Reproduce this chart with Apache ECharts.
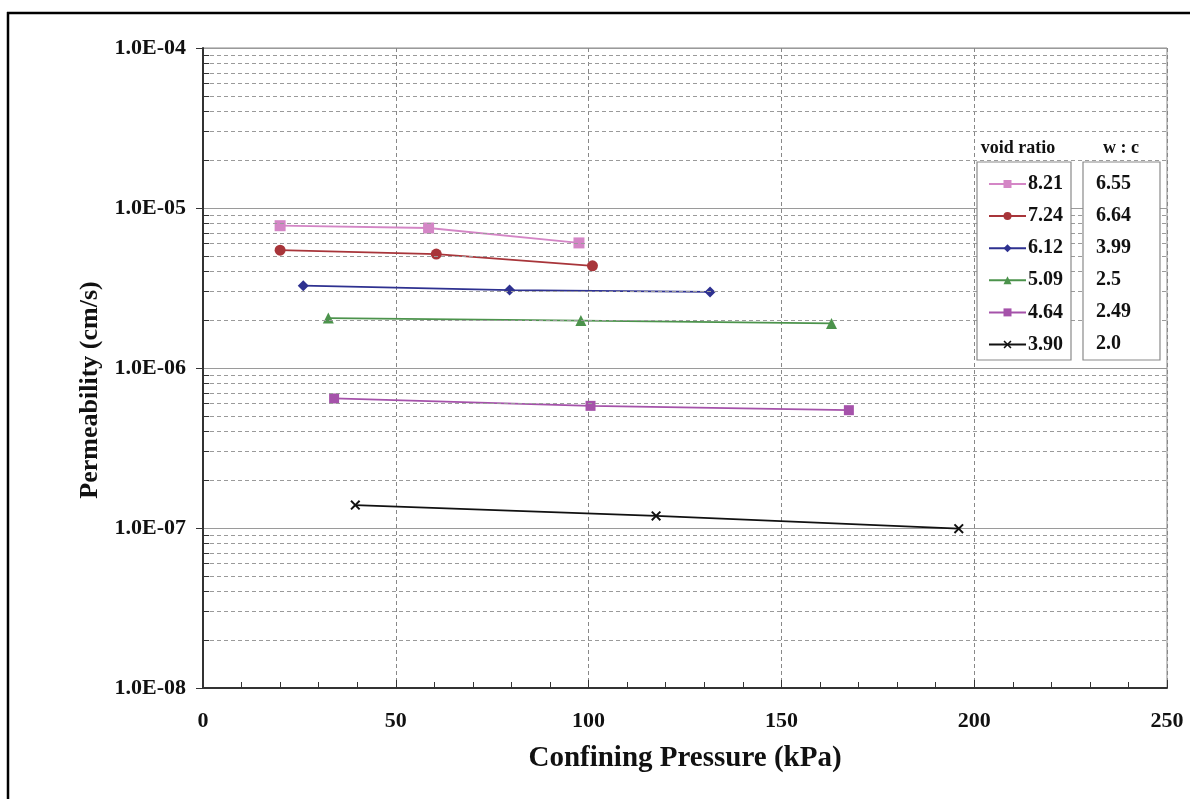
<!DOCTYPE html>
<html>
<head>
<meta charset="utf-8">
<script src="https://cdn.jsdelivr.net/npm/echarts@6/dist/echarts.min.js"></script>
<style>
html,body{margin:0;padding:0;background:#fff;}
#chart{width:1190px;height:799px;}
</style>
</head>
<body>
<div id="chart"></div>
<script>
// ---- data ----
const voidRatios = ['8.21', '7.24', '6.12', '5.09', '4.64', '3.90'];
const wcRatios = ['6.55', '6.64', '3.99', '2.5', '2.49', '2.0'];
const s821 = [[20, 7.75e-6], [58.5, 7.5e-6], [97.5, 6.05e-6]];
const s724 = [[20, 5.45e-6], [60.5, 5.15e-6], [101, 4.35e-6]];
const s612 = [[26, 3.27e-6], [79.5, 3.07e-6], [131.5, 2.99e-6]];
const s509 = [[32.5, 2.05e-6], [98, 1.98e-6], [163, 1.9e-6]];
const s464 = [[34, 6.45e-7], [100.5, 5.8e-7], [167.5, 5.45e-7]];
const s390 = [[39.5, 1.39e-7], [117.5, 1.19e-7], [196, 9.9e-8]];
const yTickLabels = { '-8': '1.0E-08', '-7': '1.0E-07', '-6': '1.0E-06', '-5': '1.0E-05', '-4': '1.0E-04' };
const xTicks = [0, 50, 100, 150, 200, 250];
const decades = [-8, -7, -6, -5];
const minorMult = [2, 3, 4, 5, 6, 7, 8, 9];
const xTitle = 'Confining Pressure (kPa)';
const yTitle = 'Permeability (cm/s)';

const FONT = '"Liberation Serif", "DejaVu Serif", serif';
const seriesData = [s821, s724, s612, s509, s464, s390];
const colors = ['#d486c6', '#a8353a', '#2e3190', '#4c934c', '#a552aa', '#111111'];
const symbols = ['rect', 'circle', 'diamond', 'triangle', 'rect',
  'path://M0,1.4 L1.4,0 L5,3.6 L8.6,0 L10,1.4 L6.4,5 L10,8.6 L8.6,10 L5,6.4 L1.4,10 L0,8.6 L3.6,5 Z'];
const symbolSizes = [11, 11, 11, 11, 10, 10];

const minorVals = [];
decades.forEach(d => minorMult.forEach(m => minorVals.push(m * Math.pow(10, d))));

const series = seriesData.map((d, i) => ({
  name: voidRatios[i],
  type: 'line',
  data: d,
  symbol: symbols[i],
  symbolSize: symbolSizes[i],
  itemStyle: { color: colors[i] },
  lineStyle: { color: colors[i], width: 1.8 },
  z: 3
}));

// helper series for minor grid lines and minor y ticks
series.push({
  name: '_minor',
  type: 'line',
  data: [],
  silent: true,
  z: 1,
  markLine: {
    silent: true,
    symbol: 'none',
    label: { show: false },
    lineStyle: { color: '#9a9a9a', type: [4, 3], width: 1 },
    data: minorVals.map(v => [{ coord: [0, v] }, { coord: [250, v] }])
  }
});
series.push({
  name: '_minorTicks',
  type: 'line',
  data: [],
  silent: true,
  z: 2,
  markLine: {
    silent: true,
    symbol: 'none',
    label: { show: false },
    lineStyle: { color: '#333', type: 'solid', width: 1 },
    data: minorVals.map(v => [{ coord: [0, v] }, { coord: [1.6, v] }])
  }
});

const rowY = [183.5, 215.5, 247.5, 279.5, 311.5, 343.5];
const graphics = [
  { type: 'line', shape: { x1: 7, y1: 13, x2: 1190, y2: 13 }, style: { stroke: '#000', lineWidth: 2.5 }, z: 10 },
  { type: 'line', shape: { x1: 8, y1: 12, x2: 8, y2: 799 }, style: { stroke: '#000', lineWidth: 2.5 }, z: 10 },
  { type: 'rect', shape: { x: 977, y: 162, width: 94, height: 198 }, style: { fill: '#fff', stroke: '#8a8a8a', lineWidth: 1.2 }, z: 20 },
  { type: 'rect', shape: { x: 1083, y: 162, width: 77, height: 198 }, style: { fill: '#fff', stroke: '#8a8a8a', lineWidth: 1.2 }, z: 20 },
  { type: 'text', x: 1018, y: 148, style: { text: 'void ratio', font: 'bold 18px ' + FONT, fill: '#111', textAlign: 'center', textVerticalAlign: 'middle' }, z: 21 },
  { type: 'text', x: 1121, y: 148, style: { text: 'w : c', font: 'bold 18px ' + FONT, fill: '#111', textAlign: 'center', textVerticalAlign: 'middle' }, z: 21 },
  { type: 'text', x: 90, y: 390, rotation: Math.PI / 2, style: { text: yTitle, font: 'bold 26px ' + FONT, fill: '#111', textAlign: 'center', textVerticalAlign: 'middle' }, z: 21 }
];
wcRatios.forEach((t, i) => {
  graphics.push({ type: 'text', x: 1096, y: rowY[i], style: { text: t, font: 'bold 20px ' + FONT, fill: '#111', textAlign: 'left', textVerticalAlign: 'middle' }, z: 21 });
});

const chart = echarts.init(document.getElementById('chart'), null, { renderer: 'canvas' });
chart.setOption({
  animation: false,
  backgroundColor: '#fff',
  grid: { left: 203, right: 23, top: 48, bottom: 111, show: true, borderColor: '#8a8a8a', borderWidth: 1, backgroundColor: 'transparent' },
  legend: {
    data: voidRatios,
    orient: 'vertical',
    left: 988,
    top: 174,
    padding: 0,
    itemGap: 12.1,
    itemWidth: 37,
    itemHeight: 10,
    z: 30,
    textStyle: { fontFamily: FONT, fontWeight: 'bold', fontSize: 20, color: '#111', lineHeight: 20, padding: [0, 0, 0, -3] }
  },
  xAxis: {
    type: 'value',
    min: 0, max: 250, interval: 50,
    axisLine: { show: true, lineStyle: { color: '#333', width: 2 } },
    axisTick: { show: true, inside: true, length: 8, lineStyle: { color: '#333' } },
    minorTick: { show: true, splitNumber: 5, length: 6, lineStyle: { color: '#333' } },
    splitLine: { show: true, lineStyle: { color: '#888', type: [4, 3] } },
    axisLabel: {
      margin: 22, fontFamily: FONT, fontWeight: 'bold', fontSize: 22, color: '#111',
      formatter: v => xTicks.indexOf(v) >= 0 ? String(v) : ''
    },
    name: xTitle,
    nameLocation: 'middle',
    nameGap: 56,
    nameTextStyle: { fontFamily: FONT, fontWeight: 'bold', fontSize: 29, color: '#111' }
  },
  yAxis: {
    type: 'log',
    logBase: 10,
    min: 1e-8, max: 1e-4,
    axisLine: { show: true, lineStyle: { color: '#333', width: 2 } },
    axisTick: { show: true, inside: false, length: 7, lineStyle: { color: '#333' } },
    splitLine: { show: true, lineStyle: { color: '#9a9a9a', type: 'solid', width: 1.2 } },
    axisLabel: {
      margin: 17, fontFamily: FONT, fontWeight: 'bold', fontSize: 22, color: '#111',
      formatter: v => yTickLabels[String(Math.round(Math.log10(v)))] || ''
    }
  },
  graphic: graphics,
  series: series
});
</script>
</body>
</html>
